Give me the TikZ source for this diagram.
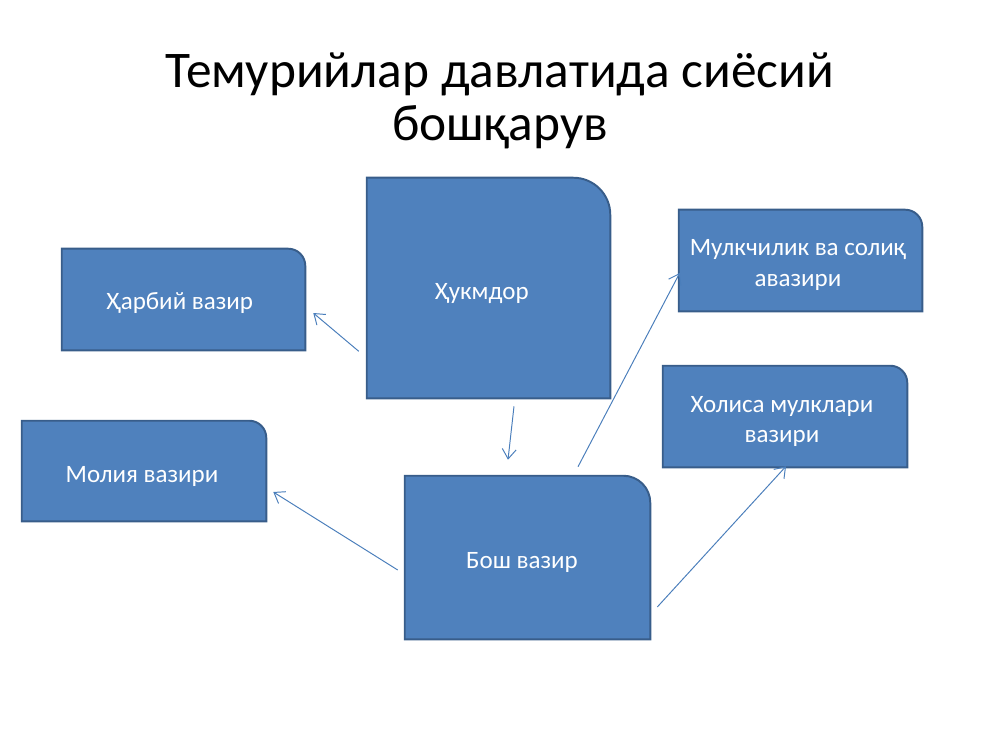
\documentclass[tikz,border=0pt]{standalone}
\usepackage{fontspec}
\setmainfont{Carlito}
\usepackage{tikz}
\usetikzlibrary{arrows.meta,backgrounds}
\definecolor{boxblue}{HTML}{4F81BD}
\definecolor{boxedge}{HTML}{385D8A}
\definecolor{linkblue}{HTML}{4A7EBB}
\newcommand{\pxl}{0.72pt}

\begin{document}
\begin{tikzpicture}[x=0.72pt,y=-0.72pt,
    vazir/.style={text=white,font=\fontsize{18}{22}\selectfont,align=center,inner sep=0pt},
    boxline/.style={fill=boxblue,draw=boxedge,line width=1.4pt},
    link/.style={draw=linkblue,line width=0.7pt,-{Straight Barb[length=7pt,width=10pt]}}]
\useasboundingbox (0,0) rectangle (1000,750);

%draw title
    \node (title) at (500,101) [align=center,font=\fontsize{37}{38}\selectfont] {Темурийлар давлатида сиёсий\\бошқарув};

%draw boxes
    \node (hukm) at (488.5,288) [vazir,minimum width={243*\pxl},minimum height={220*\pxl}] {};
    \node at (482,293.5) [vazir] {Ҳукмдор};
    \node (harbiy) at (183.5,299.5) [vazir,minimum width={243*\pxl},minimum height={101*\pxl}] {};
    \node at (180,303.5) [vazir] {Ҳарбий вазир};
    \node (moliya) at (144,471) [vazir,minimum width={244*\pxl},minimum height={100*\pxl}] {};
    \node at (142,476) [vazir] {Молия вазири};
    \node (bosh) at (527.5,557.5) [vazir,minimum width={245*\pxl},minimum height={163*\pxl}] {};
    \node at (522,562) [vazir] {Бош вазир};
    \node (mulk) at (800.5,260.5) [vazir,minimum width={243*\pxl},minimum height={101*\pxl}] {};
    \node at (798,265) [vazir] {Мулкчилик ва солиқ\\авазири};
    \node (holisa) at (785,416.5) [vazir,minimum width={244*\pxl},minimum height={101*\pxl}] {};
    \node at (782,421.5) [vazir] {Холиса мулклари\\вазири};

%draw box shapes with one round corner
    \begin{scope}[on background layer]
    \foreach \n/\r in {hukm/37,harbiy/17,moliya/17,bosh/27,mulk/17,holisa/17}
    \draw[boxline] (\n.south west) -- (\n.north west) -- ([shift={(-\r,0)}]\n.north east)
        arc[start angle=90,end angle=0,radius={\r*\pxl}] -- (\n.south east) -- cycle;
    \end{scope}

%draw arrows
    \draw[link] ([shift={(-8,-47)}]hukm.south west) -- ([shift={(8,13.5)}]harbiy.east);
    \draw[link] ([shift={(25.5,8)}]hukm.south) -- ([shift={(-19.5,-16)}]bosh.north);
    \draw[link] ([shift={(50.5,-9)}]bosh.north) -- ([shift={(1,12.5)}]mulk.west);
    \draw[link] ([shift={(-7,12.5)}]bosh.west) -- ([shift={(7,21)}]moliya.east);
    \draw[link] ([shift={(7,49.5)}]bosh.east) -- ([shift={(1,-1)}]holisa.south);

\end{tikzpicture}
\end{document}
